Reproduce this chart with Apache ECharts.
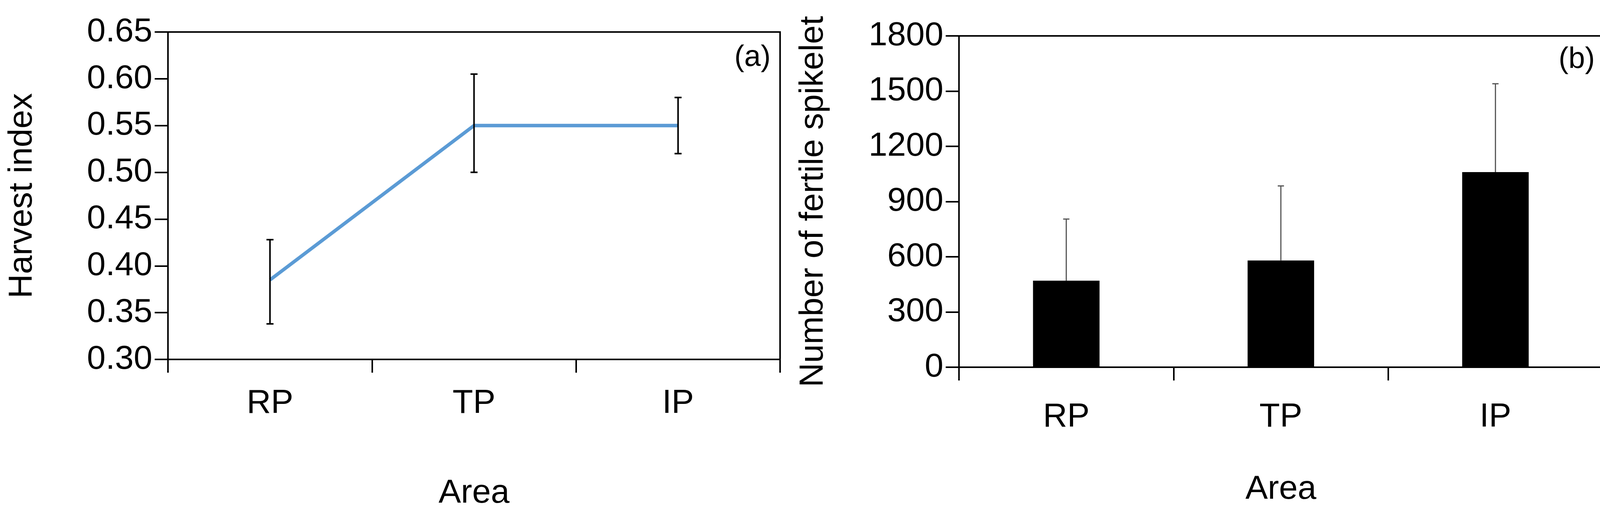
<!DOCTYPE html>
<html><head><meta charset="utf-8">
<script src="https://cdn.jsdelivr.net/npm/echarts@6/dist/echarts.min.js"></script>
<style>html,body{margin:0;background:#fff}#main{width:4129px;height:1312px}</style>
</head><body><div id="main"></div>
<script>
const areas = ["RP", "TP", "IP"];
const harvestIndex = [0.385, 0.55, 0.55];
const harvestLow = [0.338, 0.50, 0.52];
const harvestHigh = [0.428, 0.605, 0.58];
const spikelets = [470, 580, 1060];
const spikeletHigh = [805, 985, 1540];

const font = "'Liberation Sans Narrow', 'Liberation Sans', sans-serif";

function errorBars(low, high, color, width, cap, capBottom) {
  return function (params, api) {
    const i = params.dataIndex;
    const top = api.coord([i, high[i]]);
    const bot = api.coord([i, low[i]]);
    const ch = [];
    ch.push({ type: "line", shape: { x1: top[0], y1: top[1], x2: bot[0], y2: bot[1] }, style: { stroke: color, lineWidth: width } });
    ch.push({ type: "line", shape: { x1: top[0] - cap, y1: top[1], x2: top[0] + cap, y2: top[1] }, style: { stroke: color, lineWidth: width } });
    if (capBottom) {
      ch.push({ type: "line", shape: { x1: bot[0] - cap, y1: bot[1], x2: bot[0] + cap, y2: bot[1] }, style: { stroke: color, lineWidth: width } });
    }
    return { type: "group", children: ch };
  };
}

const axisLine = { show: true, lineStyle: { color: "#000", width: 4 } };
const tick = { show: true, length: 34, lineStyle: { color: "#000", width: 4 } };
const label = { color: "#000", fontFamily: font, fontSize: 86 };

let option = {
  animation: false,
  grid: [
    { left: 430, right: 4129 - 1997, top: 82, bottom: 1312 - 930, show: true, borderColor: "#000", borderWidth: 4 },
    { left: 2455, right: 26, top: 92, bottom: 1312 - 941, show: true, borderColor: "#000", borderWidth: 4 },
  ],
  title: [
    { text: "(a)", left: 1875, top: 105, textStyle: { fontFamily: font, fontSize: 76, fontWeight: "normal", color: "#000" } },
    { text: "(b)", left: 3985, top: 110, textStyle: { fontFamily: font, fontSize: 76, fontWeight: "normal", color: "#000" } },
  ],
  xAxis: [
    { type: "category", gridIndex: 0, data: areas, axisLine, axisTick: tick, axisLabel: { ...label, margin: 70 },
      name: "Area", nameLocation: "middle", nameGap: 300, nameTextStyle: label },
    { type: "category", gridIndex: 1, data: areas, axisLine, axisTick: tick, axisLabel: { ...label, margin: 85 },
      name: "Area", nameLocation: "middle", nameGap: 270, nameTextStyle: label },
  ],
  yAxis: [
    { type: "value", gridIndex: 0, min: 0.3, max: 0.65, interval: 0.05, axisLine, axisTick: tick, splitLine: { show: false },
      axisLabel: { ...label, margin: 40, formatter: v => v.toFixed(2) },
      name: "Harvest index", nameLocation: "middle", nameGap: 330, nameTextStyle: label },
    { type: "value", gridIndex: 1, min: 0, max: 1800, interval: 300, axisLine, axisTick: tick, splitLine: { show: false },
      axisLabel: { ...label, margin: 40, formatter: v => String(v) },
      name: "Number of fertile spikelet", nameLocation: "middle", nameGap: 330, nameTextStyle: label },
  ],
  series: [
    { type: "line", xAxisIndex: 0, yAxisIndex: 0, data: harvestIndex, showSymbol: false, symbol: "none",
      lineStyle: { color: "#5b9bd5", width: 9 } },
    { type: "custom", xAxisIndex: 0, yAxisIndex: 0, data: harvestIndex, z: 5,
      renderItem: errorBars(harvestLow, harvestHigh, "#000", 4, 9, true) },
    { type: "bar", xAxisIndex: 1, yAxisIndex: 1, data: spikelets, barWidth: "31%", itemStyle: { color: "#000" } },
    { type: "custom", xAxisIndex: 1, yAxisIndex: 1, data: spikelets, z: 1,
      renderItem: errorBars(spikelets, spikeletHigh, "#555", 3, 8, false) },
  ],
};

var myChart = echarts.init(document.getElementById("main"));
myChart.setOption(option);
</script></body></html>
